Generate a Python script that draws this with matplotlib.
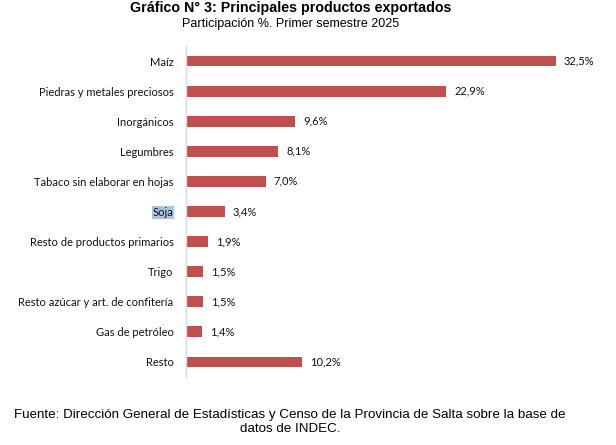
import matplotlib
matplotlib.use("Agg")
import matplotlib.pyplot as plt

categories = ["Maíz", "Piedras y metales preciosos", "Inorgánicos", "Legumbres",
              "Tabaco sin elaborar en hojas", "Soja", "Resto de productos primarios",
              "Trigo", "Resto azúcar y art. de confitería", "Gas de petróleo", "Resto"]
values = [32.5, 22.9, 9.6, 8.1, 7.0, 3.4, 1.9, 1.5, 1.5, 1.4, 10.2]
value_labels = ["32,5%", "22,9%", "9,6%", "8,1%", "7,0%", "3,4%", "1,9%", "1,5%",
                "1,5%", "1,4%", "10,2%"]

fig = plt.figure(figsize=(6.16, 4.45), dpi=100)
ax = fig.add_axes([186/616, 1-377/445, 414/616, (377-46)/445])

ypos = list(range(len(categories)))
ax.barh(ypos, values, height=0.36, color="#c0504d")
ax.set_ylim(len(categories)-0.5, -0.5)
ax.set_xlim(0, 36.4)

lab_font = "Lato"
for y, v, t in zip(ypos, values, value_labels):
    ax.text(v + 0.7, y, t, va="center", ha="left", fontsize=8, family=lab_font, color="#111111")

ax.set_yticks(ypos)
ax.set_yticklabels(categories, fontsize=8, family=lab_font, color="#111111")
ax.tick_params(axis="y", length=0, pad=9)
ax.set_xticks([])
for s in ["top", "right", "bottom"]:
    ax.spines[s].set_visible(False)
ax.spines["left"].set_color("#d9d9d9")
ax.spines["left"].set_linewidth(1.0)

for lbl in ax.get_yticklabels():
    if lbl.get_text() == "Soja":
        lbl.set_bbox(dict(facecolor="#a7c4e0", edgecolor="none", pad=0.5))

fig.text(291/616, 1-8/445, "Gráfico N° 3: Principales productos exportados", ha="center", va="center",
         fontsize=10.3, fontweight="bold", family="Liberation Sans")
fig.text(291/616, 1-24/445, "Participación %. Primer semestre 2025", ha="center", va="center",
         fontsize=9, family="Liberation Sans")
fig.text(290/616, 1-422/445,
         "Fuente: Dirección General de Estadísticas y Censo de la Provincia de Salta sobre la base de\ndatos de INDEC.",
         ha="center", va="center", multialignment="center", fontsize=9.6, family="Liberation Sans",
         linespacing=1.2)

fig.savefig("out.png", dpi=100)
